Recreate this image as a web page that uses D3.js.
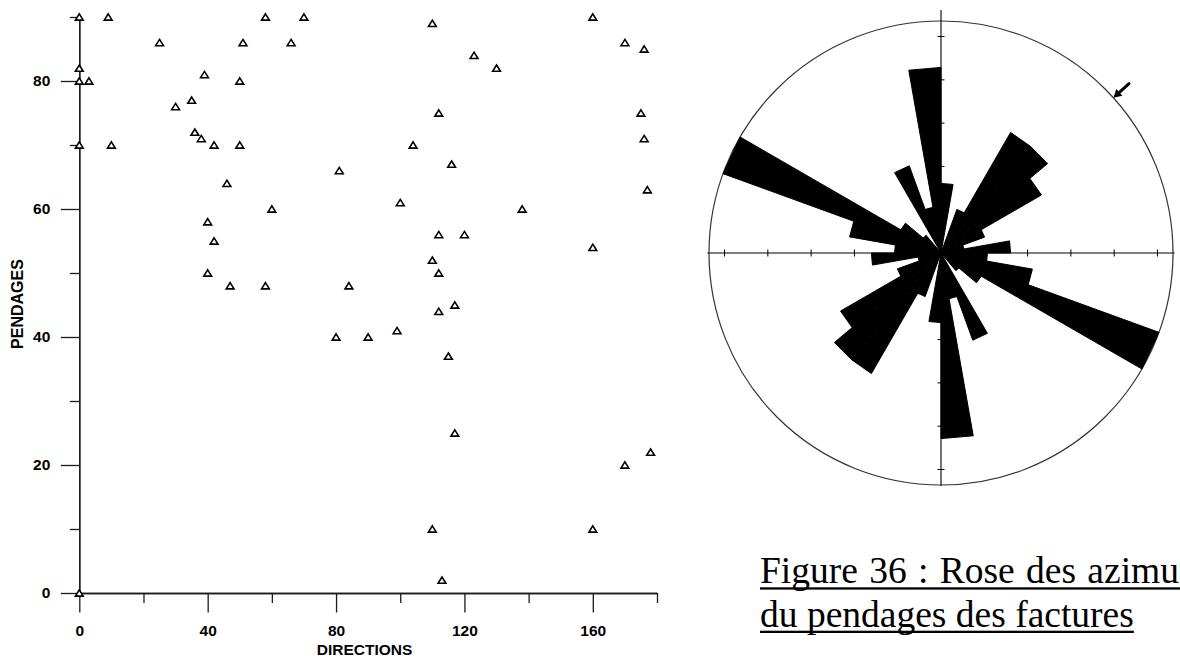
<!DOCTYPE html>
<html><head><meta charset="utf-8">
<script src="https://cdn.jsdelivr.net/npm/d3@7"></script>
<style>
html,body{margin:0;padding:0;background:#fff;overflow:hidden}
svg{display:block}
</style></head><body>
<svg id="c" width="1180" height="659"></svg>
<script>
// ---------- DATA ----------
const directions = [0,9,58,70,160,110,25,51,66,170,176,123,0,130,39,0,3,50,35,30,112,175,36,38,176,0,10,42,50,104,116,81,46,177,100,60,138,40,112,120,42,160,110,40,112,47,58,84,117,112,99,80,90,115,117,178,170,110,160,113,0];
const dips       = [90,90,90,90,90,89,86,86,86,86,85,84,82,82,81,80,80,80,77,76,75,75,72,71,71,70,70,70,70,70,67,66,64,63,61,60,60,58,56,56,55,54,52,50,50,48,48,48,45,44,41,40,40,37,25,22,20,10,10,2,0];
const xTickMajor = [0,40,80,120,160];
const xTickMinor = [20,60,100,140,180];
const yTickMajor = [0,20,40,60,80];
const yTickMinor = [10,30,50,70,90];
const xTitle = "DIRECTIONS";
const yTitle = "PENDAGES";

const roseBinStarts = [0,10,20,30,40,50,60,70,80,90,100,110,120,130,140,150,160,170];
const roseCounts    = [3,0,2,6,6,5,2,1,3,2,4,10,2,1,0,4,2,8];
const roseBinWidth = 10;
const roseMax = 10;
const roseTickStep = 1.866;
const meanAzimuth = 48;
const captionLines = ["Figure 36 : Rose des azimu", "du pendages des factures"];

// ---------- SCATTER ----------
const svg = d3.select("#c");
svg.append("rect").attr("width",1180).attr("height",659).attr("fill","#fff");

const sans = "'Liberation Sans', Arial, sans-serif";
const axisColor = "#1a1a1a";
const x = d3.scaleLinear().domain([0,180]).range([79.3,657]);
const y = d3.scaleLinear().domain([0,90]).range([593,17]);

function styleAxis(g){
  g.selectAll("path.domain").attr("stroke",axisColor).attr("stroke-width",1.3);
  g.selectAll(".tick line").attr("stroke",axisColor).attr("stroke-width",1.3);
  g.selectAll(".tick text").attr("font-family",sans).attr("font-weight","bold")
    .attr("font-size","15.5px").attr("fill","#000");
}

const gx = svg.append("g").attr("transform",`translate(0,${y(0)})`);
gx.call(d3.axisBottom(x).tickValues(xTickMajor).tickSize(19.5).tickSizeOuter(0).tickPadding(12.5).tickFormat(d3.format("d")));
gx.append("g").call(d3.axisBottom(x).tickValues(xTickMinor).tickSize(10).tickSizeOuter(0).tickFormat(""));
styleAxis(gx);

const gy = svg.append("g").attr("transform",`translate(${x(0)},0)`);
gy.call(d3.axisLeft(y).tickValues(yTickMajor).tickSize(18.5).tickSizeOuter(0).tickPadding(10.5).tickFormat(d3.format("d")));
gy.append("g").call(d3.axisLeft(y).tickValues(yTickMinor).tickSize(9.5).tickSizeOuter(0).tickFormat(""));
styleAxis(gy);

svg.append("text").attr("x",364.5).attr("y",655).attr("text-anchor","middle")
  .attr("font-family",sans).attr("font-weight","bold").attr("font-size","15.5px").text(xTitle);
svg.append("text").attr("transform","translate(22.5,304) rotate(-90)").attr("text-anchor","middle")
  .attr("font-family",sans).attr("font-weight","bold").attr("font-size","16px").text(yTitle);

const pts = directions.map((d,i)=>({d, p:dips[i]}));
svg.append("g").selectAll("path").data(pts).join("path")
  .attr("transform",d=>`translate(${x(d.d)},${y(d.p)})`)
  .attr("d","M0,-3.2L3.9,3.1L-3.9,3.1Z")
  .attr("fill","#fff").attr("stroke","#000").attr("stroke-width",1.6).attr("stroke-linejoin","miter");

// ---------- ROSE ----------
const cx = 941, cy = 253;
const r = d3.scaleLinear().domain([0,roseMax]).range([0,232]);
const g = svg.append("g").attr("transform",`translate(${cx},${cy})`);
const R = r(roseMax);
g.append("circle").attr("r",R).attr("fill","none").attr("stroke","#333").attr("stroke-width",1.2);

const petals = [];
roseBinStarts.forEach((b,i)=>{
  [0,180].forEach(off=>petals.push({a0:b+off, a1:b+off+roseBinWidth, c:roseCounts[i]}));
});
const rad = a => a*Math.PI/180;
g.append("g").selectAll("path").data(petals.filter(p=>p.c>0)).join("path")
  .attr("d",p=>{
    const rr = r(p.c);
    const pa = d3.path();
    pa.moveTo(0,0);
    pa.lineTo(rr*Math.sin(rad(p.a0)), -rr*Math.cos(rad(p.a0)));
    pa.lineTo(rr*Math.sin(rad(p.a1)), -rr*Math.cos(rad(p.a1)));
    pa.closePath();
    return pa.toString();
  })
  .attr("fill","#000").attr("stroke","#000").attr("stroke-width",1).attr("stroke-linejoin","round");

// axes of rose
g.append("line").attr("x1",-R-1.5).attr("x2",R+1.5).attr("y1",0).attr("y2",0).attr("stroke","#000").attr("stroke-width",1.1);
g.append("line").attr("x1",0).attr("x2",0).attr("y1",-R-11).attr("y2",R+1).attr("stroke","#000").attr("stroke-width",1.1);
const tickVals = d3.range(1,6).map(k=>k*roseTickStep);
const tg = g.append("g").attr("stroke","#000").attr("stroke-width",1);
tickVals.forEach(v=>{
  const t = r(v);
  tg.append("line").attr("x1",t).attr("x2",t).attr("y1",-3.5).attr("y2",3.5);
  tg.append("line").attr("x1",-t).attr("x2",-t).attr("y1",-3.5).attr("y2",3.5);
  tg.append("line").attr("y1",t).attr("y2",t).attr("x1",-3.5).attr("x2",3.5);
  tg.append("line").attr("y1",-t).attr("y2",-t).attr("x1",-3.5).attr("x2",3.5);
});

// mean direction arrow
const ma = rad(meanAzimuth);
const ux = Math.sin(ma), uy = -Math.cos(ma);
const tip = [R*ux, R*uy], tail = [(R+21)*ux, (R+21)*uy];
const head = 8, hw = 4.5;
const base = [(R+head)*ux, (R+head)*uy];
g.append("line").attr("x1",tail[0]).attr("y1",tail[1]).attr("x2",base[0]).attr("y2",base[1])
  .attr("stroke","#000").attr("stroke-width",3).attr("stroke-linecap","round");
g.append("path").attr("d",`M${tip[0]},${tip[1]}L${base[0]-uy*hw},${base[1]+ux*hw}L${base[0]+uy*hw},${base[1]-ux*hw}Z`)
  .attr("fill","#000");

// ---------- CAPTION ----------
const serif = "'Liberation Serif', 'Times New Roman', serif";
const capY = [583.3, 626.7];
captionLines.forEach((t,i)=>{
  const tx = svg.append("text").attr("x",760).attr("y",capY[i])
    .attr("font-family",serif).attr("font-size","37.5px").attr("fill","#000").text(t);
  let len = tx.node().getComputedTextLength();
  if(i===0){
    const target = 419;
    const nSp = (t.match(/ /g)||[]).length;
    tx.attr("word-spacing", ((target-len)/nSp).toFixed(2)+"px");
    len = 1180-760;
  }
  svg.append("rect").attr("x",760).attr("y",capY[i]+4).attr("width",len).attr("height",2.3).attr("fill","#000");
});
</script>
</body></html>
